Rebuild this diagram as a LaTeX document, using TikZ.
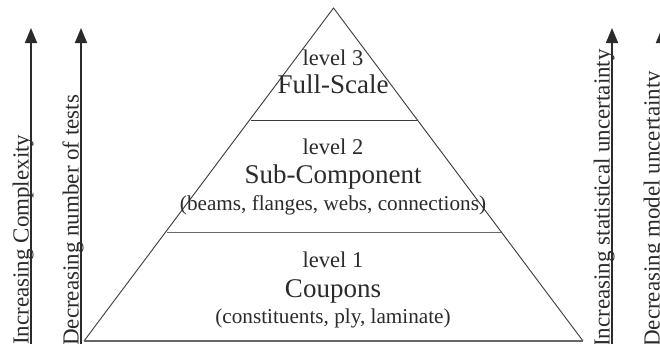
\documentclass[tikz,border=0pt]{standalone}
\usepackage{fontspec}
\setmainfont{Liberation Serif}
\usetikzlibrary{arrows.meta}
\definecolor{ink}{HTML}{2B2B2B}
\definecolor{edge}{HTML}{3A3A3A}
\tikzset{
  axisarrow/.style={draw=ink, line width=1.7pt, -{Triangle[length=15pt,width=12pt]}},
  axislabel/.style={rotate=90, anchor=base west, inner sep=0pt, text=ink,
    font=\fontsize{23}{23}\selectfont},
  levelname/.style={anchor=base, inner sep=0pt, text=ink, font=\fontsize{22.5}{22.5}\selectfont},
  leveltitle/.style={anchor=base, inner sep=0pt, text=ink, font=\fontsize{27}{27}\selectfont},
  levelnote/.style={anchor=base, inner sep=0pt, text=ink, font=\fontsize{21.2}{21.2}\selectfont},
  tier/.style={draw=edge, line width=0.9pt},
}
\begin{document}
\begin{tikzpicture}[x=1pt, y=-1pt]
  \useasboundingbox (0,0) rectangle (660,343);
  \clip (0,0) rectangle (660,343);
  \fill[white] (0,0) rectangle (660,343);

  % pyramid corners and tier boundaries
  \coordinate (apex) at (333.5,8);
  \coordinate (bl) at (84,341);
  \coordinate (br) at (583,341);
  \coordinate (t3l) at (250.5,120);
  \coordinate (t3r) at (416.5,120);
  \coordinate (t2l) at (166.5,232);
  \coordinate (t2r) at (500.5,232);

  \draw[tier] (bl) -- (apex) -- (br);
  \draw[tier] (t3l) -- (t3r);
  \draw[tier, draw=gray!80!black] (t2l) -- (t2r);
  \draw[tier, draw=gray!80!black, line width=1.2pt] (bl) -- (br);

  % tier texts
  \node[levelname]  (l3a) at (333,65)  {level 3};
  \node[leveltitle] (l3b) at (333,93)  {Full-Scale};
  \node[levelname]  (l2a) at (333,154) {level 2};
  \node[leveltitle] (l2b) at (333,183) {Sub-Component};
  \node[levelnote]  (l2c) at (333,210) {(beams, flanges, webs, connections)};
  \node[levelname]  (l1a) at (333,267) {level 1};
  \node[leveltitle] (l1b) at (333,297) {Coupons};
  \node[levelnote]  (l1c) at (333,323) {(constituents, ply, laminate)};

  % trend axes
  \coordinate (a1s) at (31,360);  \coordinate (a1e) at (31,28);
  \coordinate (a2s) at (81,360);  \coordinate (a2e) at (81,28);
  \coordinate (a3s) at (612,360); \coordinate (a3e) at (612,28);
  \coordinate (a4s) at (662,360); \coordinate (a4e) at (662,28);
  \draw[axisarrow] (a1s) -- (a1e);
  \draw[axisarrow] (a2s) -- (a2e);
  \draw[axisarrow] (a3s) -- (a3e);
  \draw[axisarrow] (a4s) -- (a4e);

  \node[axislabel] (c1) at (28.5,345) {Increasing Complexity};
  \node[axislabel] (c2) at (78.5,346) {Decreasing number of tests};
  \node[axislabel] (c3) at (609.5,347) {Increasing statistical uncertainty};
  \node[axislabel] (c4) at (659.5,347) {Decreasing model uncertainty};
\end{tikzpicture}
\end{document}
